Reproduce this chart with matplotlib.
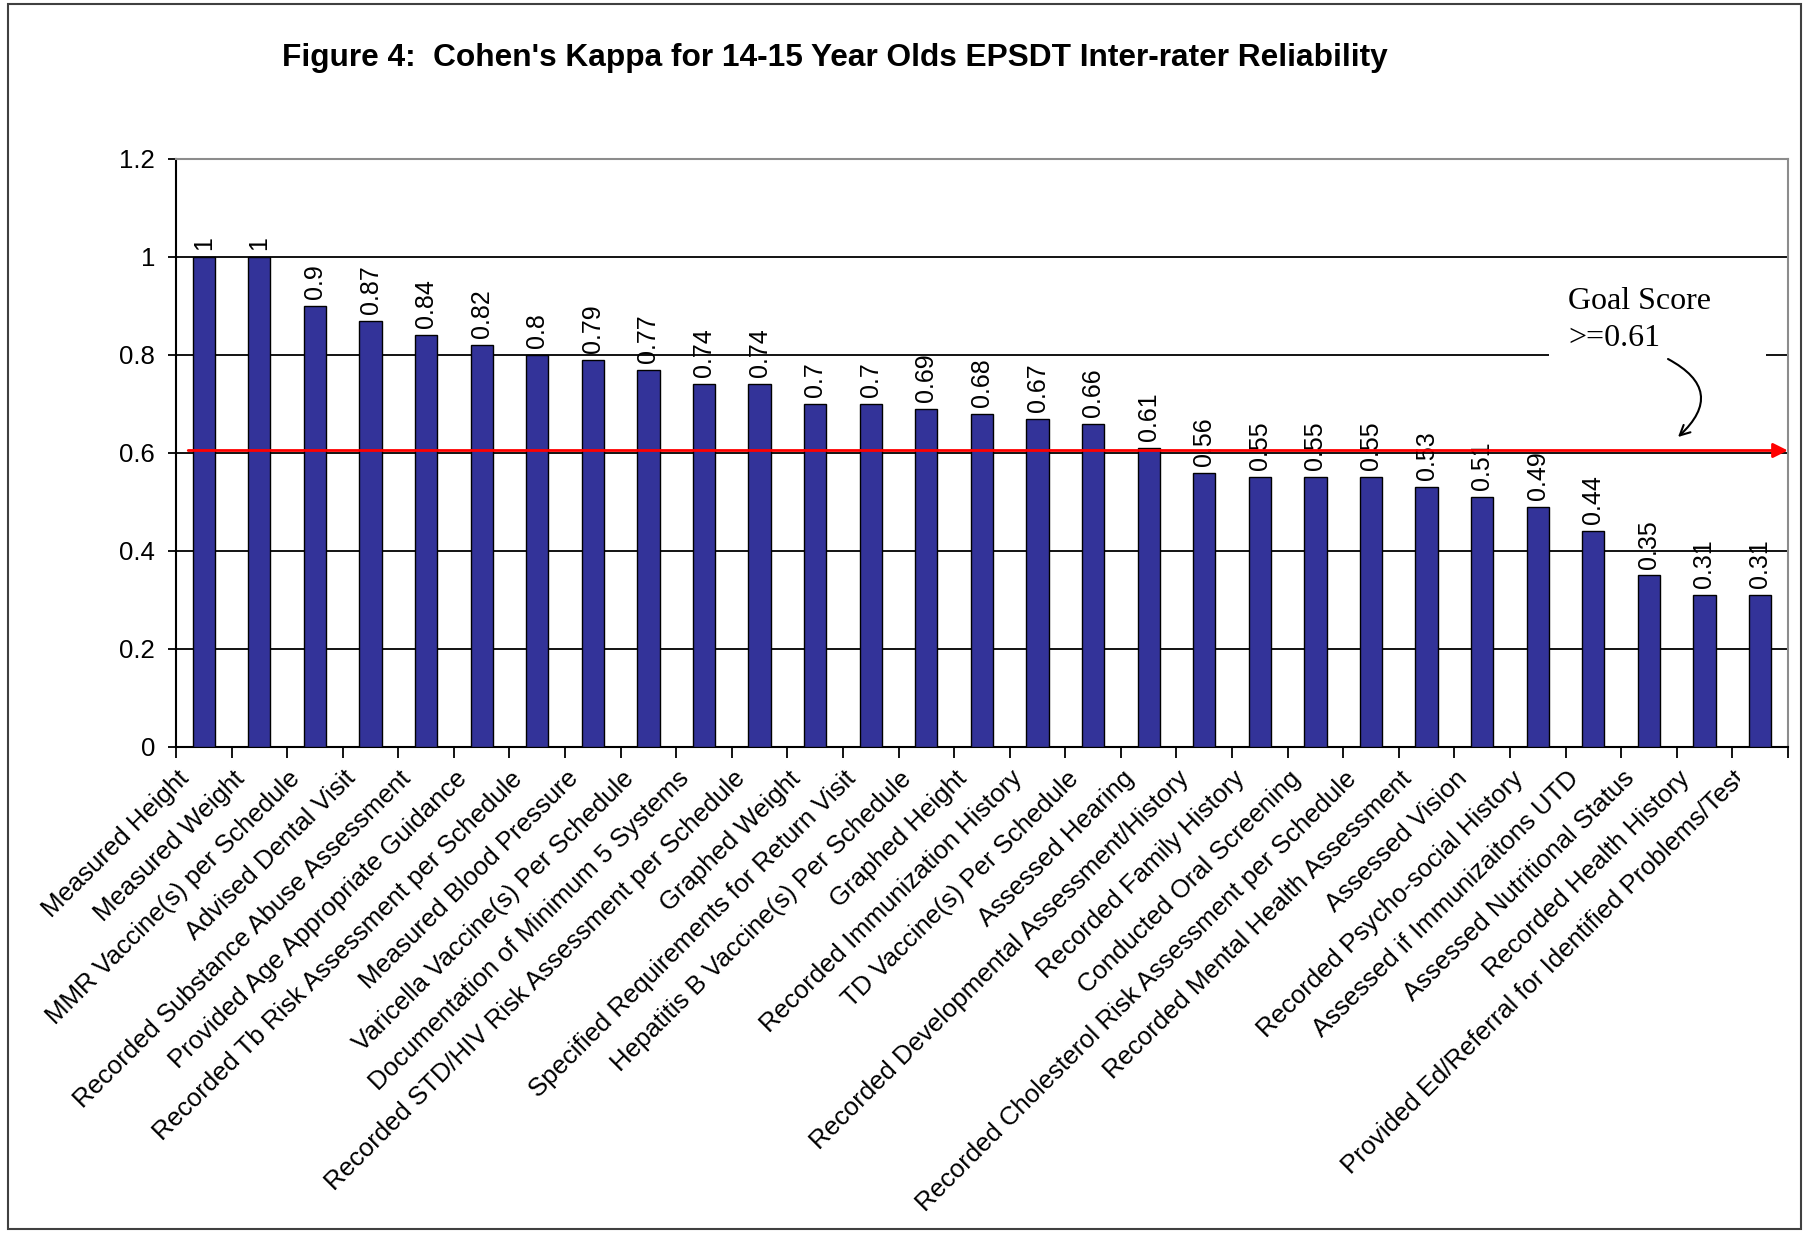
import matplotlib
matplotlib.use("Agg")
import matplotlib.pyplot as plt
from matplotlib.patches import Rectangle
from matplotlib.transforms import Bbox, TransformedBbox, ScaledTranslation, IdentityTransform

# data
categories = [
    "Measured Height",
    "Measured Weight",
    "MMR Vaccine(s) per Schedule",
    "Advised Dental Visit",
    "Recorded Substance Abuse Assessment",
    "Provided Age Appropriate Guidance",
    "Recorded Tb Risk Assessment per Schedule",
    "Measured Blood Pressure",
    "Varicella Vaccine(s) Per Schedule",
    "Documentation of Minimum 5 Systems",
    "Recorded STD/HIV Risk Assessment per Schedule",
    "Graphed Weight",
    "Specified Requirements for Return Visit",
    "Hepatitis B Vaccine(s) Per Schedule",
    "Graphed Height",
    "Recorded Immunization History",
    "TD Vaccine(s) Per Schedule",
    "Assessed Hearing",
    "Recorded Developmental Assessment/History",
    "Recorded Family History",
    "Conducted Oral Screening",
    "Recorded Cholesterol Risk Assessment per Schedule",
    "Recorded Mental Health Assessment",
    "Assessed Vision",
    "Recorded Psycho-social History",
    "Assessed if Immunizaitons UTD",
    "Assessed Nutritional Status",
    "Recorded Health History",
    "Provided Ed/Referral for Identified Problems/Test",
]
kappa = [1, 1, 0.9, 0.87, 0.84, 0.82, 0.8, 0.79, 0.77, 0.74, 0.74, 0.7, 0.7,
         0.69, 0.68, 0.67, 0.66, 0.61, 0.56, 0.55, 0.55, 0.55, 0.53, 0.51,
         0.49, 0.44, 0.35, 0.31, 0.31]
y_ticks = [0, 0.2, 0.4, 0.6, 0.8, 1.0, 1.2]
goal_line = 0.605
title = "Figure 4:  Cohen's Kappa for 14-15 Year Olds EPSDT Inter-rater Reliability"


def main():
    plt.rcParams['font.family'] = ['Liberation Sans', 'DejaVu Sans']
    fig = plt.figure(figsize=(18.05, 12.33), dpi=100)
    ax = fig.add_axes([0.0975, 0.3942, 0.893, 0.4769])

    n = len(categories)
    x = list(range(n))
    ax.bar(x, kappa, width=0.40, color="#333399", edgecolor="black",
           linewidth=1.0, zorder=3)

    ax.set_xlim(-0.5, n - 0.5)
    ax.set_ylim(0, 1.2)

    # horizontal gridlines
    for v in y_ticks[1:-1]:
        ax.axhline(v, color="black", linewidth=1.3, zorder=1)

    # value labels above each bar
    for xi, v in zip(x, kappa):
        ax.annotate(f"{v:g}", (xi, v), xytext=(0, 5), textcoords="offset points",
                    rotation=90, ha="center", va="bottom", fontsize=18)

    # spines
    for s in ["left", "bottom"]:
        ax.spines[s].set_color("black")
        ax.spines[s].set_linewidth(1.5)
    for s in ["top", "right"]:
        ax.spines[s].set_color("#8c8c8c")
        ax.spines[s].set_linewidth(1.5)

    ax.set_yticks(y_ticks)
    ax.set_yticklabels([f"{v:g}" for v in y_ticks])
    ax.tick_params(axis="y", direction="out", length=6, width=1.3,
                   labelsize=18.5, pad=9)

    ax.set_xticks(x)
    ax.set_xticklabels(categories, rotation=45, ha="right", va="top",
                       rotation_mode="anchor", fontsize=18.5)
    ax.tick_params(axis="x", which="major", length=0, pad=14)
    ax.set_xticks([i - 0.5 for i in range(n + 1)], minor=True)
    ax.tick_params(axis="x", which="minor", direction="out", length=8, width=1.3)

    # nudge labels a little left of the bar centre, like the original
    shift = ScaledTranslation(-27 / 100, 0, fig.dpi_scale_trans)
    for lbl in ax.get_xticklabels():
        lbl.set_transform(lbl.get_transform() + shift)

    # last label is cut off at the chart edge in the original
    last = ax.get_xticklabels()[-1]
    last.set_clip_on(True)
    last.set_clip_box(TransformedBbox(Bbox([[0, 0], [1740, 1233]]), IdentityTransform()))

    # goal line with arrow head
    ax.annotate("", xy=(n - 0.5, goal_line), xytext=(-0.28, goal_line),
                arrowprops=dict(arrowstyle="-|>", color="red", lw=2.0,
                                mutation_scale=22, shrinkA=0, shrinkB=0),
                zorder=5, annotation_clip=False)

    # white box behind goal score text
    ax.add_patch(Rectangle((24.2, 0.72), 3.9, 0.265, facecolor="white",
                           edgecolor="none", zorder=2))
    fig.text(1568 / 1805, 1 - 309 / 1233, "Goal Score", fontsize=23,
             family="Liberation Serif", ha="left", va="baseline")
    fig.text(1568 / 1805, 1 - 346 / 1233, ">=0.61", fontsize=23,
             family="Liberation Serif", ha="left", va="baseline")
    ax.annotate("", xy=(1678, 1233 - 437), xycoords="figure pixels",
                xytext=(1668, 1233 - 359), textcoords="figure pixels",
                arrowprops=dict(arrowstyle="->", color="black", lw=1.5,
                                connectionstyle="arc3,rad=-0.7",
                                mutation_scale=18, shrinkA=0, shrinkB=0))

    fig.text(0.4625, 0.953, title, fontsize=22.8, fontweight="bold",
             ha="center", va="center")

    # outer frame
    fig.patches.append(Rectangle((0.0045, 0.003), 0.9935, 0.994,
                                 transform=fig.transFigure, fill=False,
                                 edgecolor="#404040", linewidth=1.5))

    plt.savefig("out.png", dpi=100)


if __name__ == "__main__":
    main()
